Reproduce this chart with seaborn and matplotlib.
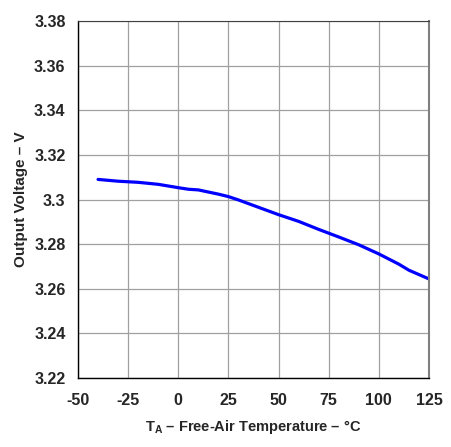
import matplotlib
matplotlib.use("Agg")
import matplotlib.pyplot as plt
import pandas as pd
import seaborn as sns
from matplotlib.ticker import FuncFormatter

# Output voltage vs free-air temperature
temps = [-40, -30, -20, -10, 0, 5, 10, 20, 25, 30, 40, 50, 60, 70, 80, 90, 100, 110, 115, 125]
volts = [3.3090, 3.3082, 3.3077, 3.3068, 3.3053, 3.3046, 3.3043, 3.3024, 3.3013, 3.2998,
         3.2965, 3.2932, 3.2902, 3.2866, 3.2832, 3.2797, 3.2756, 3.2710, 3.2683, 3.2644]
x_ticks = [-50, -25, 0, 25, 50, 75, 100, 125]
y_ticks = [3.22, 3.24, 3.26, 3.28, 3.30, 3.32, 3.34, 3.36, 3.38]

sns.set_style("white")
plt.rcParams["font.family"] = ["Liberation Sans", "DejaVu Sans"]
plt.rcParams["font.weight"] = "bold"
plt.rcParams["axes.unicode_minus"] = False
plt.rcParams["mathtext.fontset"] = "custom"
plt.rcParams["mathtext.rm"] = "Liberation Sans:bold"

df = pd.DataFrame({"temp": temps, "vout": volts})

fig = plt.figure(figsize=(4.51, 4.47), dpi=100)
ax = fig.add_axes([78 / 451, 69 / 447, 351 / 451, 357 / 447])

sns.lineplot(data=df, x="temp", y="vout", color="#0000ff", linewidth=2.3, ax=ax)

ax.set_xlim(-50, 125)
ax.set_ylim(3.22, 3.38)
ax.set_xticks(x_ticks)
ax.set_yticks(y_ticks)
ax.yaxis.set_major_formatter(FuncFormatter(lambda v, _: f"{v:g}"))
ax.grid(True, color="#a0a0a0", linewidth=0.9)
ax.tick_params(axis="x", length=0, labelsize=11.5, pad=11)
ax.tick_params(axis="y", length=0, labelsize=11.5, pad=9)
for lab in ax.get_xticklabels() + ax.get_yticklabels():
    lab.set_fontweight("bold")

for side in ["left", "bottom"]:
    ax.spines[side].set_color("black")
    ax.spines[side].set_linewidth(1.0)
ax.spines["top"].set_color("#404040")
ax.spines["right"].set_color("#808080")
ax.spines["right"].set_linewidth(1.5)

ax.set_xlabel("T$_{\\mathrm{A}}$ – Free-Air Temperature – °C", fontsize=10.5,
              fontweight="bold", labelpad=7)
ax.set_ylabel("Output Voltage – V", fontsize=11, fontweight="bold", labelpad=4)

fig.savefig("out.png", dpi=100)
